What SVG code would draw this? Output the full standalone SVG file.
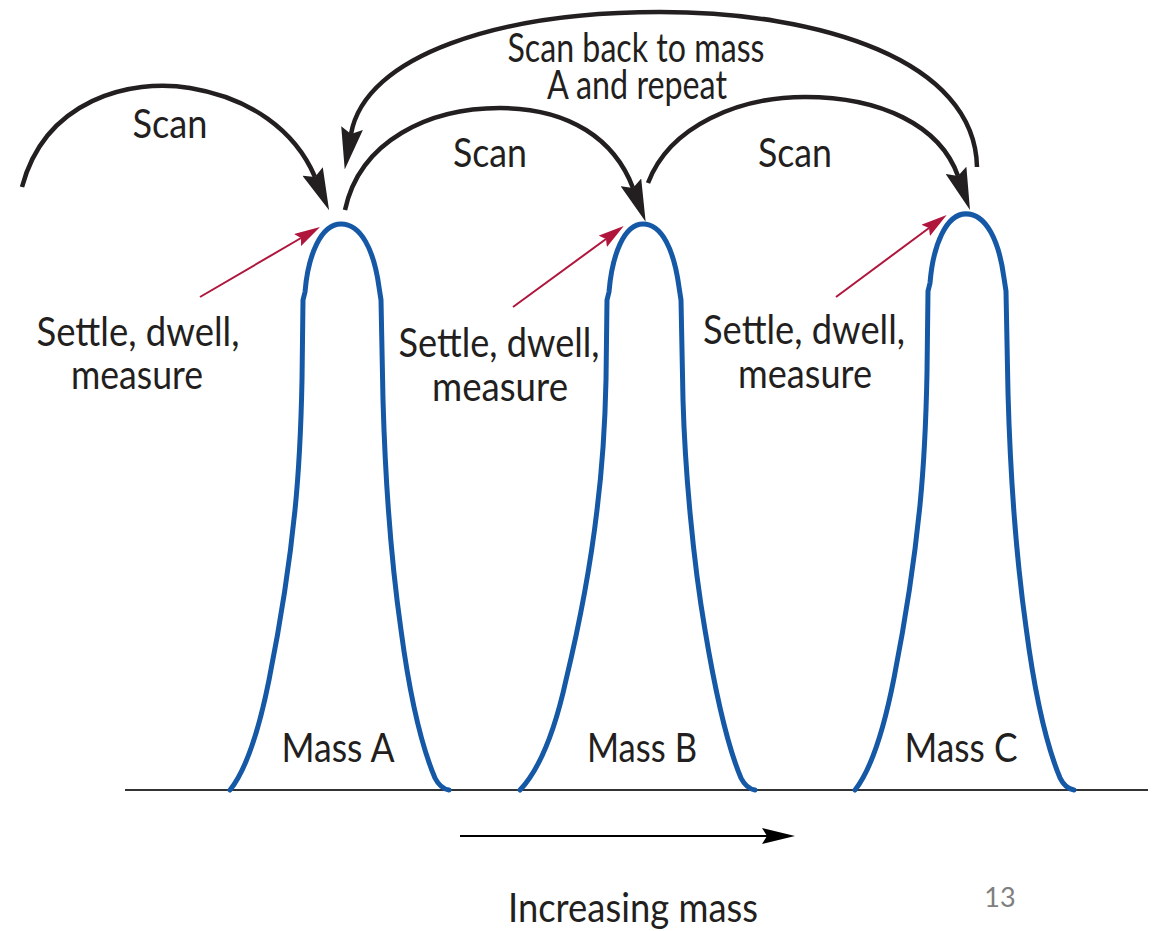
<svg xmlns="http://www.w3.org/2000/svg" width="1158" height="931" viewBox="0 0 1158 931">
  <style>
    .lbl { font-family: Lato, "Liberation Sans", sans-serif; font-size: 41px; fill: #231F20; text-anchor: middle; }
    .peak { fill: none; stroke: #1558A6; stroke-width: 5; stroke-linejoin: round; stroke-linecap: round; }
    .scan { fill: none; stroke: #231F20; stroke-width: 4.5; marker-end: url(#blackHead); }
    .red { fill: none; stroke: #B0153C; stroke-width: 2; marker-end: url(#redHead); }
    .axis { stroke: #333333; stroke-width: 2; }
  </style>
  <defs>
    <marker id="blackHead" markerUnits="userSpaceOnUse" viewBox="0 0 42 22" markerWidth="42" markerHeight="22" refX="6" refY="11" orient="auto">
      <path d="M0,0 L42,11 L0,22 L6,11 Z" fill="#231F20"/>
    </marker>
    <marker id="redHead" markerUnits="userSpaceOnUse" viewBox="0 0 26 14" markerWidth="26" markerHeight="14" refX="4" refY="7" orient="auto">
      <path d="M0,0 L26,7 L0,14 L4,7 Z" fill="#B0153C"/>
    </marker>
    <marker id="smallHead" markerUnits="userSpaceOnUse" viewBox="0 0 33 16" markerWidth="33" markerHeight="16" refX="5" refY="8" orient="auto">
      <path d="M0,0 L33,8 L0,16 L5,8 Z" fill="#000000"/>
    </marker>
    <path id="peakShape" d="M-111,790 C-95,770 -82,730 -72,680 C-62,630 -52,570 -46,510 C-42,470 -40,430 -39,380 L-38,300 L-36,292 C-33,255 -20,224 0,224 C20,224 33,250 38,287 L40,300 L42,400 C44,470 50,560 60,630 C68,690 80,745 94,778 C98,786 102,789 108,790"/>
    <path id="peakShapeB" d="M-123,790 C-104,770 -88,730 -77,680 C-65,630 -53,570 -46,510 C-41,470 -38,430 -37,380 L-36,300 L-34,292 C-31,255 -19,224 0,224 C19,224 31,250 36,287 L38,300 L40,400 C42,470 50,560 62,630 C72,690 84,745 98,778 C102,786 106,789 112,790"/>
  </defs>

  <rect width="1158" height="931" fill="#ffffff"/>

  <g id="axis">
    <line class="axis" x1="125" y1="790" x2="1148" y2="790"/>
  </g>

  <g id="massA">
    <use href="#peakShape" class="peak" transform="translate(341,0)"/>
    <text class="lbl" x="338" y="762" textLength="113" lengthAdjust="spacingAndGlyphs">Mass A</text>
  </g>
  <g id="massB">
    <use href="#peakShapeB" class="peak" transform="translate(643,0)"/>
    <text class="lbl" x="642" y="762" textLength="110" lengthAdjust="spacingAndGlyphs">Mass B</text>
  </g>
  <g id="massC">
    <use href="#peakShape" class="peak" transform="translate(966,-14.2) scale(1,1.018)"/>
    <text class="lbl" x="961" y="762" textLength="113" lengthAdjust="spacingAndGlyphs">Mass C</text>
  </g>

  <g id="labelA">
    <text class="lbl" x="138" y="346" textLength="203" lengthAdjust="spacingAndGlyphs">Settle, dwell,</text>
    <text class="lbl" x="137" y="389" textLength="132" lengthAdjust="spacingAndGlyphs">measure</text>
  </g>
  <g id="labelB">
    <text class="lbl" x="499" y="357" textLength="201" lengthAdjust="spacingAndGlyphs">Settle, dwell,</text>
    <text class="lbl" x="500" y="401" textLength="136" lengthAdjust="spacingAndGlyphs">measure</text>
  </g>
  <g id="labelC">
    <text class="lbl" x="804" y="344" textLength="202" lengthAdjust="spacingAndGlyphs">Settle, dwell,</text>
    <text class="lbl" x="805" y="388" textLength="134" lengthAdjust="spacingAndGlyphs">measure</text>
  </g>

  <g id="scanLabels">
    <text class="lbl" x="170" y="138" textLength="75" lengthAdjust="spacingAndGlyphs">Scan</text>
    <text class="lbl" x="490" y="167" textLength="74" lengthAdjust="spacingAndGlyphs">Scan</text>
    <text class="lbl" x="795" y="167" textLength="74" lengthAdjust="spacingAndGlyphs">Scan</text>
    <text class="lbl" x="636" y="62" textLength="257" lengthAdjust="spacingAndGlyphs">Scan back to mass</text>
    <text class="lbl" x="637" y="99" textLength="180" lengthAdjust="spacingAndGlyphs">A and repeat</text>
  </g>

  <g id="connectors">
    <path class="scan" d="M22,187 C45,100 130,78 190,88 C250,98 295,130 315,177"/>
    <path class="scan" d="M345,210 C360,140 430,108 500,108 C570,108 615,140 633,188"/>
    <path class="scan" d="M648,183 C670,125 740,97 805,97 C880,97 940,125 958,176"/>
    <path class="scan" d="M977,167 C975,60 820,12 660,12 C500,12 365,55 351,134"/>
    <path class="red" d="M200,297 L301,238"/>
    <path class="red" d="M513,307 L606,239"/>
    <path class="red" d="M836,297 L929,228"/>
    <line x1="460" y1="836" x2="767" y2="836" stroke="#000000" stroke-width="2" marker-end="url(#smallHead)"/>
  </g>

  <g id="footer">
    <text class="lbl" x="633" y="922" textLength="250" lengthAdjust="spacingAndGlyphs">Increasing mass</text>
    <text x="1000" y="907" font-family="Lato, 'Liberation Sans', sans-serif" font-size="27" fill="#7F7F7F" text-anchor="middle">13</text>
  </g>
</svg>
